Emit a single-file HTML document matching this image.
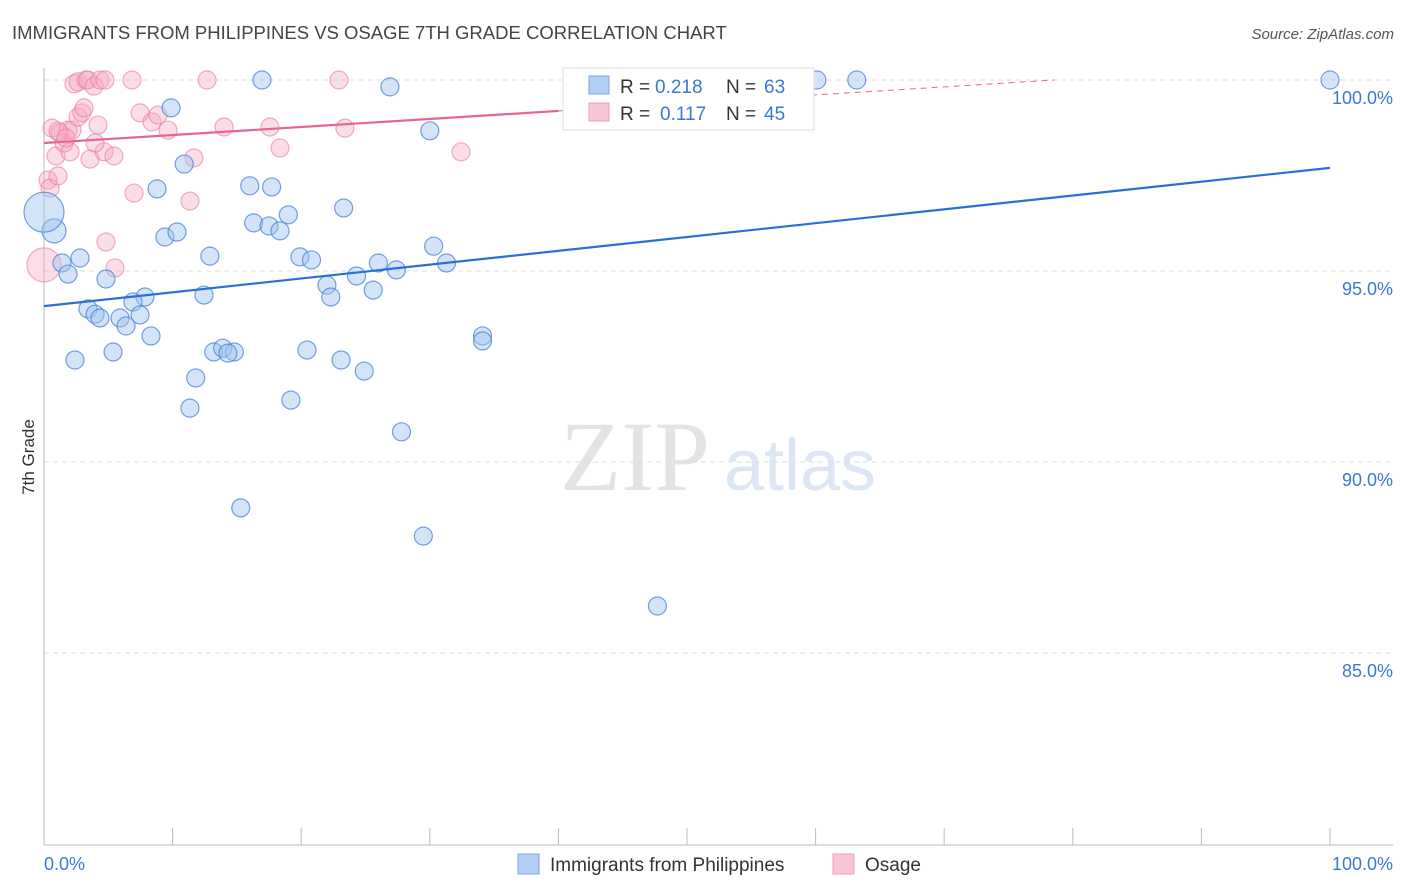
<!DOCTYPE html>
<html><head><meta charset="utf-8"><style>
body{margin:0;background:#fff;font-family:"Liberation Sans",sans-serif;}
#wrap{position:relative;width:1406px;height:892px;overflow:hidden;}
</style></head><body>
<div id="wrap">
<svg id="svg" width="1406" height="892" xmlns="http://www.w3.org/2000/svg">
<text x="12" y="39" font-size="18.5" fill="#444">IMMIGRANTS FROM PHILIPPINES VS OSAGE 7TH GRADE CORRELATION CHART</text>
<text x="1394" y="39" font-size="15" fill="#555" text-anchor="end" font-style="italic">Source: ZipAtlas.com</text>
<text x="0" y="0" transform="translate(34,457) rotate(-90)" font-size="17" fill="#333" text-anchor="middle">7th Grade</text>
<g><text x="635" y="490" font-size="100" fill="#e3e3e3" font-family="Liberation Serif,serif" text-anchor="middle">ZIP</text><text x="800" y="490" font-size="72" fill="#dce6f4" text-anchor="middle">atlas</text></g>
<g id="grid"></g><g id="axes"></g><g id="marks"></g>
<g>
<rect x="563" y="68" width="251" height="62" fill="#fff" stroke="#ddd"/>
<rect x="589" y="76" width="20" height="18" fill="#b3cff3" stroke="#7aa7e3"/>
<rect x="589" y="103" width="20" height="18" fill="#f8c5d4" stroke="#eda0b8"/>
<text y="93" font-size="19" fill="#333"><tspan x="620">R =</tspan><tspan x="655" fill="#3b78d6">0.218</tspan><tspan x="726">N =</tspan><tspan x="764" fill="#3b78d6">63</tspan></text>
<text y="120" font-size="19" fill="#333"><tspan x="620">R =</tspan><tspan x="660" fill="#3b78d6">0.117</tspan><tspan x="726">N =</tspan><tspan x="764" fill="#3b78d6">45</tspan></text>
</g>
<g>
<rect x="518" y="854" width="21" height="20" fill="#b3cff3" stroke="#7aa7e3"/>
<text x="550" y="871" font-size="19" fill="#333">Immigrants from Philippines</text>
<rect x="833" y="854" width="21" height="20" fill="#f8c5d4" stroke="#eda0b8"/>
<text x="865" y="871" font-size="19" fill="#333">Osage</text>
</g>
</svg>
</div>
<script>
const yTicks=[100,95,90,85];
const yTickLabels=["100.0%","95.0%","90.0%","85.0%"];
const xTickLabels=["0.0%","100.0%"];
const blueX=[16.95,26.9,60.1,63.2,100,9.88,30.0,10.9,8.79,16.0,17.7,23.3,19.0,16.3,17.5,18.35,0.78,0,9.4,10.34,30.3,12.9,2.8,1.4,19.9,20.8,26.0,31.3,1.87,24.3,27.4,4.82,22.0,25.6,22.3,7.85,6.92,12.44,3.42,3.97,4.35,5.91,7.47,6.38,8.32,34.1,34.1,5.37,13.2,13.9,14.8,14.3,20.45,2.41,23.1,24.9,11.8,11.35,19.2,27.8,15.3,29.5,47.7];
const blueY=[100,99.82,100,100,100,99.27,98.67,97.8,97.15,97.23,97.2,96.65,96.47,96.26,96.18,96.05,96.05,96.54,95.89,96.02,95.65,95.39,95.34,95.21,95.37,95.29,95.21,95.21,94.92,94.87,95.03,94.79,94.63,94.5,94.32,94.32,94.19,94.37,94.01,93.87,93.77,93.77,93.85,93.56,93.3,93.3,93.17,92.88,92.88,92.98,92.88,92.85,92.93,92.67,92.67,92.38,92.2,91.41,91.62,90.79,88.8,88.06,86.23];
const blueR=[9,9,9,9,9,9,9,9,9,9,9,9,9,9,9,9,12,20,9,9,9,9,9,9,9,9,9,9,9,9,9,9,9,9,9,9,9,9,9,9,9,9,9,9,9,9,9,9,9,9,9,9,9,9,9,9,9,9,9,9,9,9,9];
const pinkX=[0,0.31,0.47,0.62,0.93,1.09,1.24,1.56,1.87,2.02,2.18,2.33,2.64,2.64,2.95,3.11,3.27,3.42,3.58,3.89,4.2,4.35,4.67,4.82,5.44,5.52,6.84,7.0,7.47,8.4,8.86,9.64,11.35,11.66,12.68,14.0,17.57,18.35,22.94,23.4,32.43,3.97,1.09,4.74,1.71];
const pinkY=[95.16,97.38,97.17,98.74,98.01,97.49,98.61,98.35,98.69,98.12,98.69,99.9,99.95,99.03,99.14,99.27,100,100,97.93,99.84,98.82,100,98.12,95.76,98.01,95.08,100,97.04,99.14,98.9,99.08,98.69,96.83,97.96,100,98.77,98.77,98.22,100,98.74,98.12,98.35,98.66,100,98.48];
const blueTrend=[94.08,97.70];
const pinkTrend=[98.35,99.19,40];
const NS="http://www.w3.org/2000/svg";
const X=v=>44+v*12.86, Y=v=>80+(100-v)*38.2;
function mk(t,a,p){const e=document.createElementNS(NS,t);for(const k in a)e.setAttribute(k,a[k]);p.appendChild(e);return e;}
const grid=document.getElementById('grid'),axes=document.getElementById('axes'),marks=document.getElementById('marks');
yTicks.forEach((t,i)=>{
 const l=mk('line',{x1:44,x2:1393,y1:Y(t),y2:Y(t),stroke:'#ddd','stroke-dasharray':'5,4'},grid);
 
 
 const tx=mk('text',{x:1393,y:Y(t)+24,'font-size':18,fill:'#3b78d6','text-anchor':'end'},axes);tx.textContent=yTickLabels[i];
 
 
});
let al=mk('line',{x1:44,x2:44,y1:68,y2:845,stroke:'#bbb'},axes);


al=mk('line',{x1:44,x2:1393,y1:845,y2:845,stroke:'#bbb'},axes);


for(let i=0;i<=10;i++){const tk=mk('line',{x1:X(i*10),x2:X(i*10),y1:828,y2:845,stroke:'#bbb'},axes);
 
 }
let t1=mk('text',{x:44,y:870,'font-size':18,fill:'#3b78d6'},axes);t1.textContent=xTickLabels[0];


t1=mk('text',{x:1393,y:870,'font-size':18,fill:'#3b78d6','text-anchor':'end'},axes);t1.textContent=xTickLabels[1];


pinkX.forEach((x,i)=>{const c=mk('circle',{cx:X(x),cy:Y(pinkY[i]),r:i==0?17:9,fill:'rgba(244,170,195,0.4)',stroke:'rgba(232,120,155,0.6)','stroke-width':1.2},marks);
 
 });
blueX.forEach((x,i)=>{const c=mk('circle',{cx:X(x),cy:Y(blueY[i]),r:blueR[i],fill:'rgba(160,196,240,0.45)',stroke:'rgba(70,130,215,0.75)','stroke-width':1.2},marks);
 
 });
let ln=mk('line',{x1:X(0),y1:Y(blueTrend[0]),x2:X(100),y2:Y(blueTrend[1]),stroke:'#2a6fd6','stroke-width':2.2},marks);


const slope=(pinkTrend[1]-pinkTrend[0])/pinkTrend[2];
ln=mk('line',{x1:X(0),y1:Y(pinkTrend[0]),x2:X(pinkTrend[2]),y2:Y(pinkTrend[1]),stroke:'#e8648e','stroke-width':2.2},marks);


const xEnd=(100-pinkTrend[0])/slope;
ln=mk('line',{x1:X(pinkTrend[2]),y1:Y(pinkTrend[1]),x2:X(xEnd),y2:Y(100),stroke:'#e8648e','stroke-width':1,'stroke-dasharray':'6,5'},marks);


</script>
</body></html>
